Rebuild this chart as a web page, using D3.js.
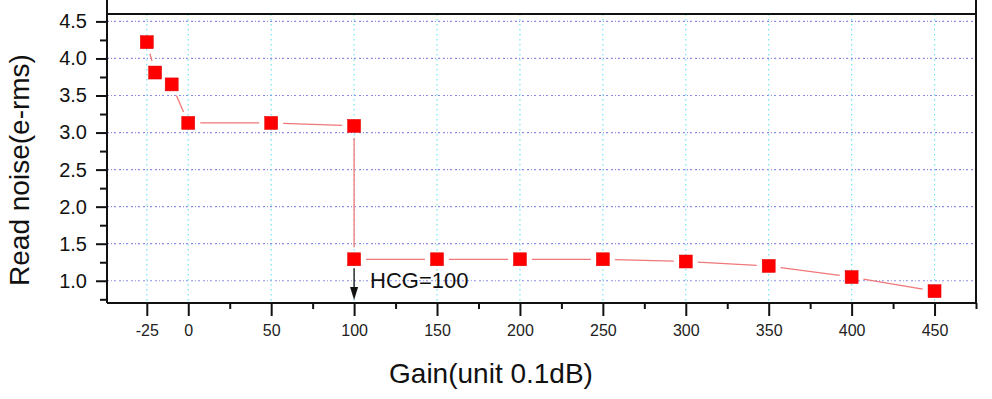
<!DOCTYPE html>
<html><head><meta charset="utf-8">
<script src="https://cdn.jsdelivr.net/npm/d3@7"></script>
<style>body{margin:0;background:#fff}svg{display:block}text{font-family:"Liberation Sans",Arial,sans-serif}</style>
</head><body><svg id="c" width="992" height="399"></svg>
<script>
const gain  = [-25, -20, -10, 0, 50, 100, 100, 150, 200, 250, 300, 350, 400, 450];
const noise = [4.22, 3.81, 3.65, 3.13, 3.13, 3.09, 1.29, 1.29, 1.29, 1.29, 1.26, 1.20, 1.05, 0.86];
const xMajor = [-25, 0, 50, 100, 150, 200, 250, 300, 350, 400, 450];
const xMinor = [25, 75, 125, 175, 225, 275, 325, 375, 425, 475];
const yMajor = [1.0, 1.5, 2.0, 2.5, 3.0, 3.5, 4.0, 4.5];
const yMinor = [0.75, 1.25, 1.75, 2.25, 2.75, 3.25, 3.75, 4.25];
const xTitle = "Gain(unit 0.1dB)";
const yTitle = "Read noise(e-rms)";
const annot = "HCG=100";
const annotX = 100;

const svg = d3.select("#c");
const L = 107, R = 976, T = 14, B = 303;
const x = d3.scaleLinear().domain([-49, 475]).range([L, R]);
const y = d3.scaleLinear().domain([0.7, 4.6]).range([B, T]);

// grid
svg.append("g").selectAll("line").data(yMajor).join("line")
  .attr("x1", L).attr("x2", R).attr("y1", d => y(d)).attr("y2", d => y(d))
  .attr("stroke", "#8c8ce6").attr("stroke-width", 1.2).attr("stroke-dasharray", "2,2,1,2,2,3");
svg.append("g").selectAll("line").data(xMajor).join("line")
  .attr("x1", d => x(d)).attr("x2", d => x(d)).attr("y1", T).attr("y2", B)
  .attr("stroke", "#6fe6f2").attr("stroke-width", 1.2).attr("stroke-dasharray", "1.5,3.5");

// frame
svg.append("line").attr("x1", L).attr("x2", R).attr("y1", T).attr("y2", T).attr("stroke", "#111").attr("stroke-width", 2);
svg.append("line").attr("x1", R).attr("x2", R).attr("y1", 0).attr("y2", B).attr("stroke", "#111").attr("stroke-width", 2);

// axes
const xAx = svg.append("g").attr("transform", `translate(0,${B})`)
  .call(d3.axisBottom(x).tickValues(xMajor).tickSize(13).tickPadding(9).tickFormat(d => String(d)));
svg.append("g").attr("transform", `translate(0,${B})`)
  .call(d3.axisBottom(x).tickValues(xMinor).tickSize(6).tickFormat(""))
  .call(g => g.select(".domain").remove());
xAx.select(".domain").attr("d", `M${L},0H${R}`);
xAx.selectAll("text").attr("font-size", 16).attr("fill", "#222").attr("font-family", "Liberation Sans, Arial, sans-serif");

const yAx = svg.append("g").attr("transform", `translate(${L},0)`)
  .call(d3.axisLeft(y).tickValues(yMajor).tickSize(11).tickPadding(9).tickFormat(d => d.toFixed(1)));
svg.append("g").attr("transform", `translate(${L},0)`)
  .call(d3.axisLeft(y).tickValues(yMinor).tickSize(7).tickFormat(""))
  .call(g => g.select(".domain").remove());
yAx.select(".domain").attr("d", `M0,0V${B}`);
yAx.selectAll("text").attr("font-size", 20).attr("fill", "#111").attr("font-family", "Liberation Sans, Arial, sans-serif");
svg.selectAll(".domain").attr("stroke", "#111").attr("stroke-width", 2);
svg.selectAll(".tick line").attr("stroke", "#111").attr("stroke-width", 2);

// connecting line with gaps around markers
const pts = gain.map((g, i) => [x(g), y(noise[i])]);
const gap = 12;
const segs = d3.pairs(pts).map(([a, b]) => {
  const dx = b[0] - a[0], dy = b[1] - a[1], len = Math.hypot(dx, dy);
  if (len <= 2 * gap) return null;
  const ux = dx / len, uy = dy / len;
  return [a[0] + ux * gap, a[1] + uy * gap, b[0] - ux * gap, b[1] - uy * gap];
}).filter(Boolean);
svg.append("g").selectAll("line").data(segs).join("line")
  .attr("x1", d => d[0]).attr("y1", d => d[1]).attr("x2", d => d[2]).attr("y2", d => d[3])
  .attr("stroke", "#f07878").attr("stroke-width", 1.3);

// markers
const ms = 13;
svg.append("g").selectAll("rect").data(pts).join("rect")
  .attr("x", d => d[0] - ms / 2).attr("y", d => d[1] - ms / 2)
  .attr("width", ms).attr("height", ms).attr("fill", "#ff0000").attr("stroke", "#e00000").attr("stroke-width", 0.5);

// annotation arrow
const ax = x(annotX), ayTop = y(1.29) + 9, ayBot = B - 3;
svg.append("line").attr("x1", ax).attr("x2", ax).attr("y1", ayTop).attr("y2", ayBot - 10)
  .attr("stroke", "#111").attr("stroke-width", 1.3);
svg.append("path").attr("d", `M${ax - 4},${ayBot - 13}L${ax + 4},${ayBot - 13}L${ax},${ayBot}Z`).attr("fill", "#111");
svg.append("text").attr("x", ax + 16).attr("y", y(1.0) + 7).attr("font-size", 22).attr("fill", "#111").text(annot);

// titles
svg.append("text").attr("x", 491).attr("y", 383).attr("text-anchor", "middle")
  .attr("font-size", 28).attr("fill", "#111").text(xTitle);
svg.append("text").attr("transform", "translate(29,170) rotate(-90)").attr("text-anchor", "middle")
  .attr("font-size", 28).attr("fill", "#111").text(yTitle);
</script></body></html>
